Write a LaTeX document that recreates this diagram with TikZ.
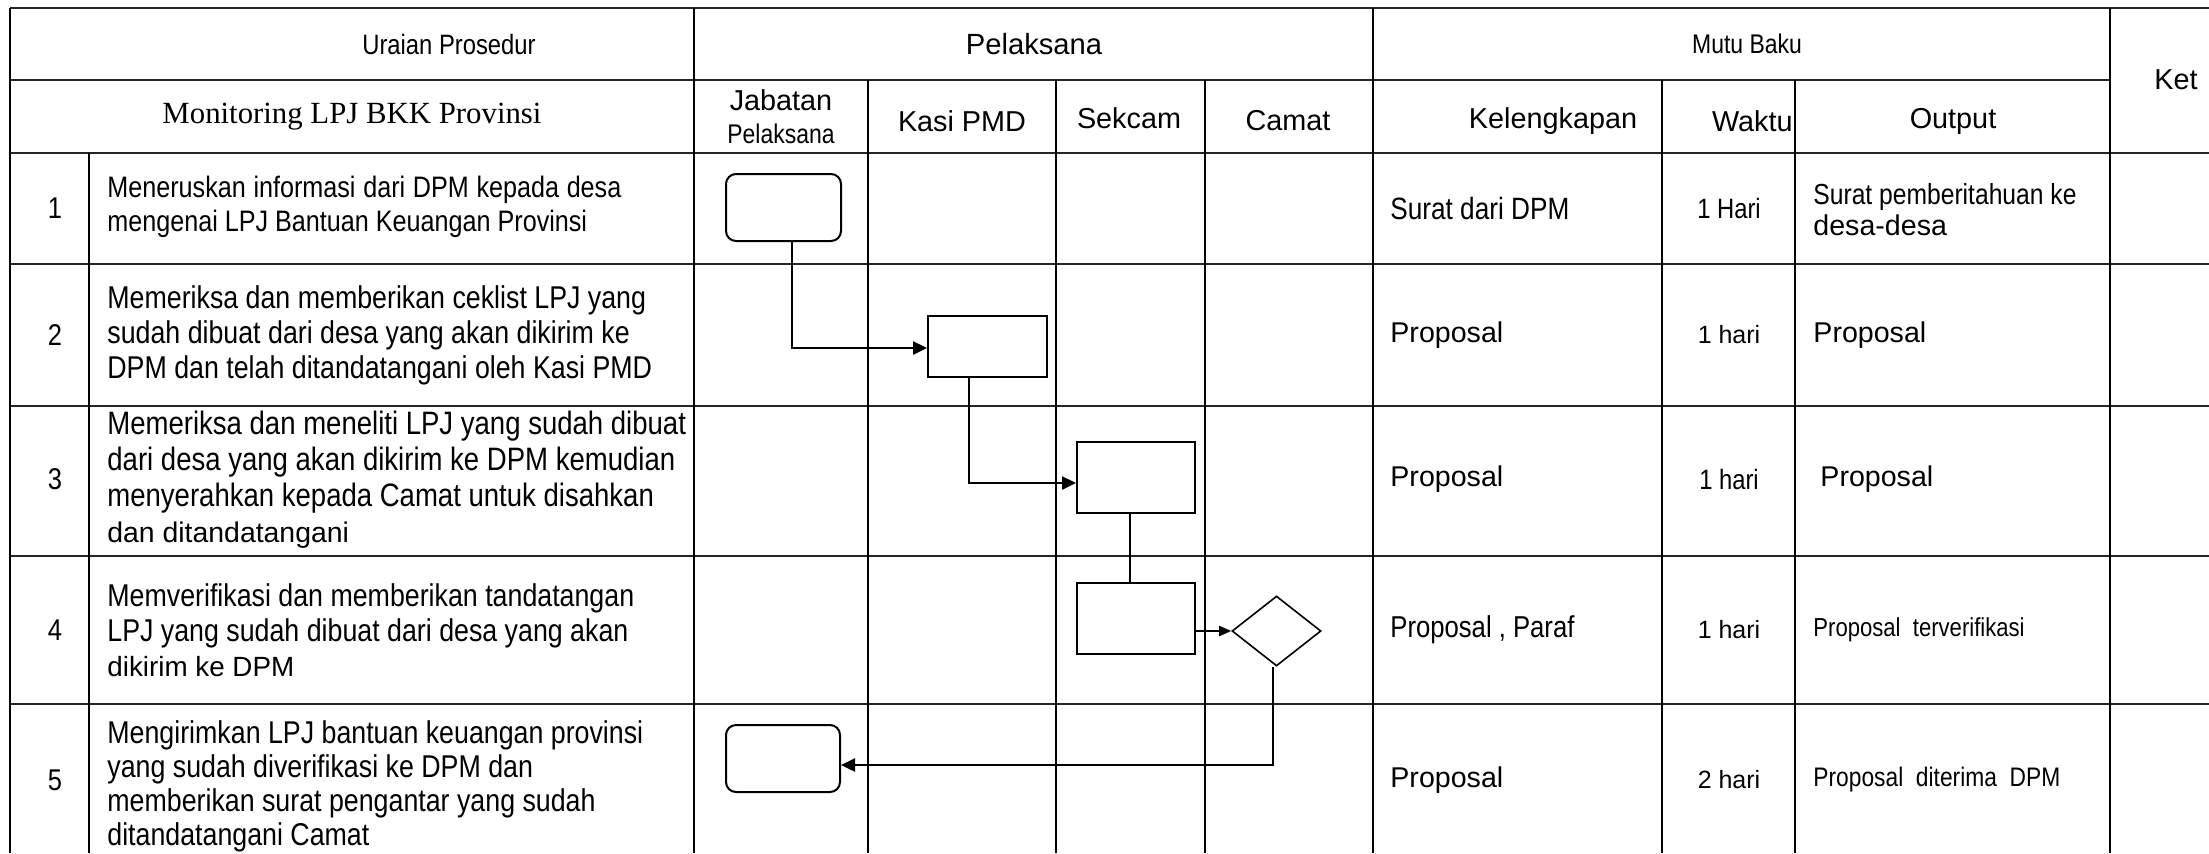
\documentclass[tikz,border=0pt]{standalone}
\usepackage{fontspec}
\setmainfont{Liberation Sans}
\newfontfamily\nar[FakeStretch=0.85]{Liberation Sans}
\newfontfamily\regf{Liberation Sans}
\newfontfamily\serf{Liberation Serif}
\usetikzlibrary{arrows.meta,shapes.geometric}
\begin{document}
\begin{tikzpicture}[x=0.5pt,y=-0.5pt,
  hline/.style={line width=1.1pt,draw=black!85},
  vline/.style={line width=0.8pt,draw=black},
  box/.style={draw,line width=1pt,rectangle,inner sep=0pt},
  rbox/.style={box,rounded corners=5pt},
  dec/.style={draw,diamond,line width=0.8pt,inner sep=0pt,minimum width=44.5pt,minimum height=35pt},
  conn/.style={line width=1.2pt,-{Triangle[length=7pt,width=6.5pt]}},
  plainconn/.style={line width=1pt},
  txt/.style={inner sep=0pt},
  hd/.style={txt,font=\regf\fontsize{14.4}{17}\selectfont},
  hdn/.style={txt,font=\nar\fontsize{14}{17}\selectfont},
  ur/.style={txt,anchor=west,align=left,font=\nar\fontsize{15.75}{17.5}\selectfont},
  num/.style={txt,font=\nar\fontsize{15}{17}\selectfont},
  nr/.style={txt,font=\nar\fontsize{#1}{17}\selectfont},
  rg/.style={txt,font=\regf\fontsize{#1}{17}\selectfont}
]
\fill[white] (0,0) rectangle (2209,853);
\useasboundingbox (0,0) rectangle (2209,853);

% horizontal table lines
\draw[hline] (10,8) -- (2209,8);
\draw[hline] (10,80) -- (2110,80);
\draw[hline] (10,153) -- (2209,153);
\foreach \yy in {264,406,556,704} \draw[hline] (10,\yy) -- (2209,\yy);
% vertical table lines
\draw[vline] (10,8) -- (10,853);
\draw[vline] (89,153) -- (89,853);
\draw[vline] (694,8) -- (694,853);
\foreach \xx in {868,1056,1205} \draw[vline] (\xx,80) -- (\xx,853);
\draw[vline] (1373,8) -- (1373,853);
\draw[vline] (1662,80) -- (1662,853);
\draw[vline] (1795,80) -- (1795,853);
\draw[vline] (2110,8) -- (2110,853);

% headers
\node[hdn] (hUraian) at (449,44) {Uraian Prosedur};
\node[txt,font=\serf\fontsize{15.4}{17}\selectfont] (hMon) at (352,117) {Monitoring LPJ BKK Provinsi};
\node[txt,font=\regf\fontsize{14.6}{17}\selectfont] (hPel) at (1034,44) {Pelaksana};
\node[txt,align=center,font=\regf\fontsize{14.4}{16.5}\selectfont] (hJab) at (781,117) {Jabatan\\{\nar\fontsize{13.5}{16.5}\selectfont Pelaksana}};
\node[hd] (hKasi) at (962,121) {Kasi PMD};
\node[hd] (hSek) at (1129,118) {Sekcam};
\node[hd] (hCam) at (1288,121) {Camat};
\node[txt,font=\nar\fontsize{13.5}{17}\selectfont] (hMutu) at (1747,44) {Mutu Baku};
\node[hd] (hKel) at (1553,121) {Kelengkapan};
\node[hd,anchor=east] (hWak) at (1793,121) {Waktu};
\node[hd] (hOut) at (1953,121) {Output};
\node[hd] (hKet) at (2176,80) {Ket};

% numbers
\node[num] (n1) at (55,208) {1};
\node[num] (n2) at (55,335) {2};
\node[num] (n3) at (55,479) {3};
\node[num] (n4) at (55,630) {4};
\node[num] (n5) at (55,780) {5};

% uraian
\node[ur,font=\nar\fontsize{14.8}{17}\selectfont] (u1) at (107,207) {\makebox[257pt][s]{Meneruskan informasi dari DPM kepada desa}\\mengenai LPJ Bantuan Keuangan Provinsi};
\node[ur] (u2) at (107,335) {Memeriksa dan memberikan ceklist LPJ yang\\sudah dibuat dari desa yang akan dikirim ke\\DPM dan telah ditandatangani oleh Kasi PMD};
\node[ur,font=\nar\fontsize{16.2}{18}\selectfont] (u3) at (107,480) {Memeriksa dan meneliti LPJ yang sudah dibuat\\dari desa yang akan dikirim ke DPM kemudian\\menyerahkan kepada Camat untuk disahkan\\{\regf\fontsize{14.2}{18}\selectfont dan ditandatangani}};
\node[ur] (u4) at (107,630) {Memverifikasi dan memberikan tandatangan\\LPJ yang sudah dibuat dari desa yang akan\\{\regf\fontsize{13.9}{17.5}\selectfont dikirim ke DPM}};
\node[ur,font=\nar\fontsize{15.75}{17}\selectfont] (u5) at (107,786) {Mengirimkan LPJ bantuan keuangan provinsi\\yang sudah diverifikasi ke DPM dan\\memberikan surat pengantar yang sudah\\ditandatangani Camat};

% kelengkapan
\node[nr=15.4,anchor=west] (k1) at (1390,208) {Surat dari DPM};
\node[rg=14.3,anchor=west] (k2) at (1390,335) {Proposal};
\node[rg=14.3,anchor=west] (k3) at (1390,479) {Proposal};
\node[nr=15.1,anchor=west] (k4) at (1390,630) {Proposal , Paraf};
\node[rg=14.3,anchor=west] (k5) at (1390,780) {Proposal};

% waktu
\node[nr=14] (w1) at (1729,208) {1 Hari};
\node[rg=12.5] (w2) at (1729,335) {1 hari};
\node[nr=14] (w3) at (1729,479) {1 hari};
\node[rg=12.5] (w4) at (1729,630) {1 hari};
\node[rg=12.5] (w5) at (1729,780) {2 hari};

% output
\node[txt,anchor=west,align=left,font=\nar\fontsize{14.5}{15.5}\selectfont] (o1) at (1813,210) {Surat pemberitahuan ke\\{\regf\fontsize{14.3}{15.5}\selectfont desa-desa}};
\node[rg=14.3,anchor=west] (o2) at (1813,335) {Proposal};
\node[rg=14.3,anchor=west] (o3) at (1820,479) {Proposal};
\node[nr=13,anchor=west] (o4) at (1813,630) {Proposal\ \ terverifikasi};
\node[nr=13.4,anchor=west] (o5) at (1813,780) {Proposal\ \ diterima\ \ DPM};

% flow shapes
\node[rbox,minimum width=57.5pt,minimum height=33.5pt] (S1) at (783.5,207.5) {};
\node[box,minimum width=59.5pt,minimum height=30.5pt] (S2) at (987.5,346.5) {};
\node[box,minimum width=59pt,minimum height=35.5pt] (S3) at (1136,477.5) {};
\node[box,minimum width=59pt,minimum height=35.5pt] (S4) at (1136,618.5) {};
\node[dec] (D) at (1276.5,631) {};
\node[rbox,minimum width=57pt,minimum height=33.5pt] (S5) at (783,758.5) {};

% connectors
\coordinate (b1) at (792,348);
\coordinate (b2) at (969,483);
\coordinate (b3) at (1130,0);
\coordinate (b4) at (1273,765);
\draw[conn] (S1.south -| b1) |- (S2.west |- b1);
\draw[conn] (S2.south -| b2) |- (S3.west |- b2);
\draw[plainconn] (S3.south -| b3) -- (S4.north -| b3);
\draw[line width=1pt,-{Triangle[length=6pt,width=5pt]}] (S4.east |- D.west) -- (D.west);
\draw[conn] (D.south -| b4) |- (S5.east |- b4);
\end{tikzpicture}
\end{document}
